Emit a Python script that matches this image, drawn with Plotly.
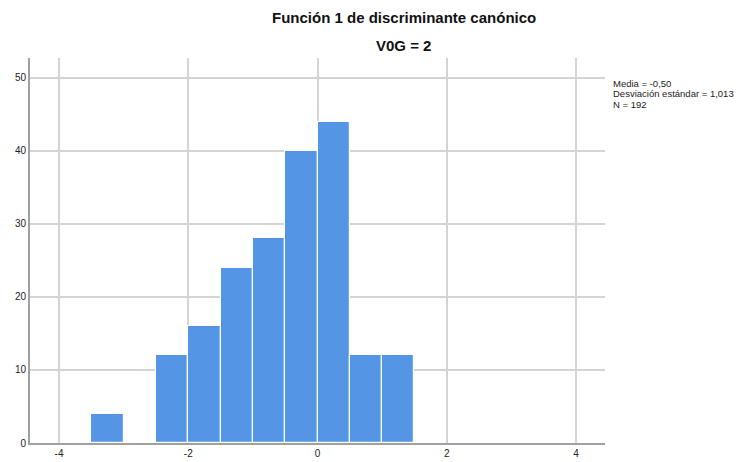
import plotly.graph_objects as go

bin_starts = [-3.5, -3.0, -2.5, -2.0, -1.5, -1.0, -0.5, 0.0, 0.5, 1.0]
counts = [4, 0, 12, 16, 24, 28, 40, 44, 12, 12]
bin_width = 0.5
x_ticks = [-4, -2, 0, 2, 4]
y_ticks = [0, 10, 20, 30, 40, 50]
title = "Función 1 de discriminante canónico"
subtitle = "V0G = 2"
stats = ["Media = -0,50", "Desviación estándar = 1,013", "N = 192"]

centers = [s + bin_width / 2 for s in bin_starts]

L, R, T, B = 30, 139, 58, 19
W, H = 744, 462
pw = W - L - R
ph = H - T - B

def px_to_paper(px, py):
    return (px - L) / pw, (H - B - py) / ph

fig = go.Figure()
fig.add_trace(go.Bar(
    x=centers, y=counts, width=bin_width,
    marker=dict(color="#5595E5", line=dict(color="white", width=1.2)),
    hoverinfo="x+y",
))

tx, ty = px_to_paper(404, 18)
sx, sy = px_to_paper(403, 45)

annotations = [
    dict(text="<b>" + title + "</b>", x=tx, y=ty, xref="paper", yref="paper",
         xanchor="center", yanchor="middle",
         showarrow=False, font=dict(size=15, color="#111")),
    dict(text="<b>" + subtitle + "</b>", x=sx, y=sy, xref="paper", yref="paper",
         xanchor="center", yanchor="middle",
         showarrow=False, font=dict(size=15, color="#111")),
]
for i, line in enumerate(stats):
    ax, ay = px_to_paper(611, 83 + i * 10.5)
    annotations.append(dict(text=line, x=ax, y=ay, xref="paper", yref="paper",
                            xanchor="left", yanchor="middle", showarrow=False,
                            font=dict(size=9.5, color="#222")))

fig.update_layout(
    width=W, height=H,
    margin=dict(l=L, r=R, t=T, b=B, autoexpand=False),
    plot_bgcolor="white", paper_bgcolor="white",
    font=dict(family="Liberation Sans, Arial, sans-serif", size=10, color="#222"),
    showlegend=False,
    bargap=0,
    xaxis=dict(
        range=[-4.45, 4.45], tickvals=x_ticks, ticktext=[str(v) for v in x_ticks],
        showgrid=True, gridcolor="#d4d4d4", gridwidth=1.5,
        zeroline=False, showline=True, linecolor="#a0a0a0", linewidth=2,
        ticks="", ticklen=0, tickfont=dict(size=10, color="#222"), automargin=False,
    ),
    yaxis=dict(
        range=[0, 52.7], tickvals=y_ticks, ticktext=[str(v) for v in y_ticks],
        showgrid=True, gridcolor="#d4d4d4", gridwidth=1.5,
        zeroline=False, showline=True, linecolor="#a0a0a0", linewidth=2,
        ticks="", tickfont=dict(size=10, color="#222"), automargin=False,
    ),
    annotations=annotations,
)

fig.write_html("out.html", config={"displayModeBar": False},
               post_script="document.body.style.margin='0';document.body.style.overflow='hidden';")
